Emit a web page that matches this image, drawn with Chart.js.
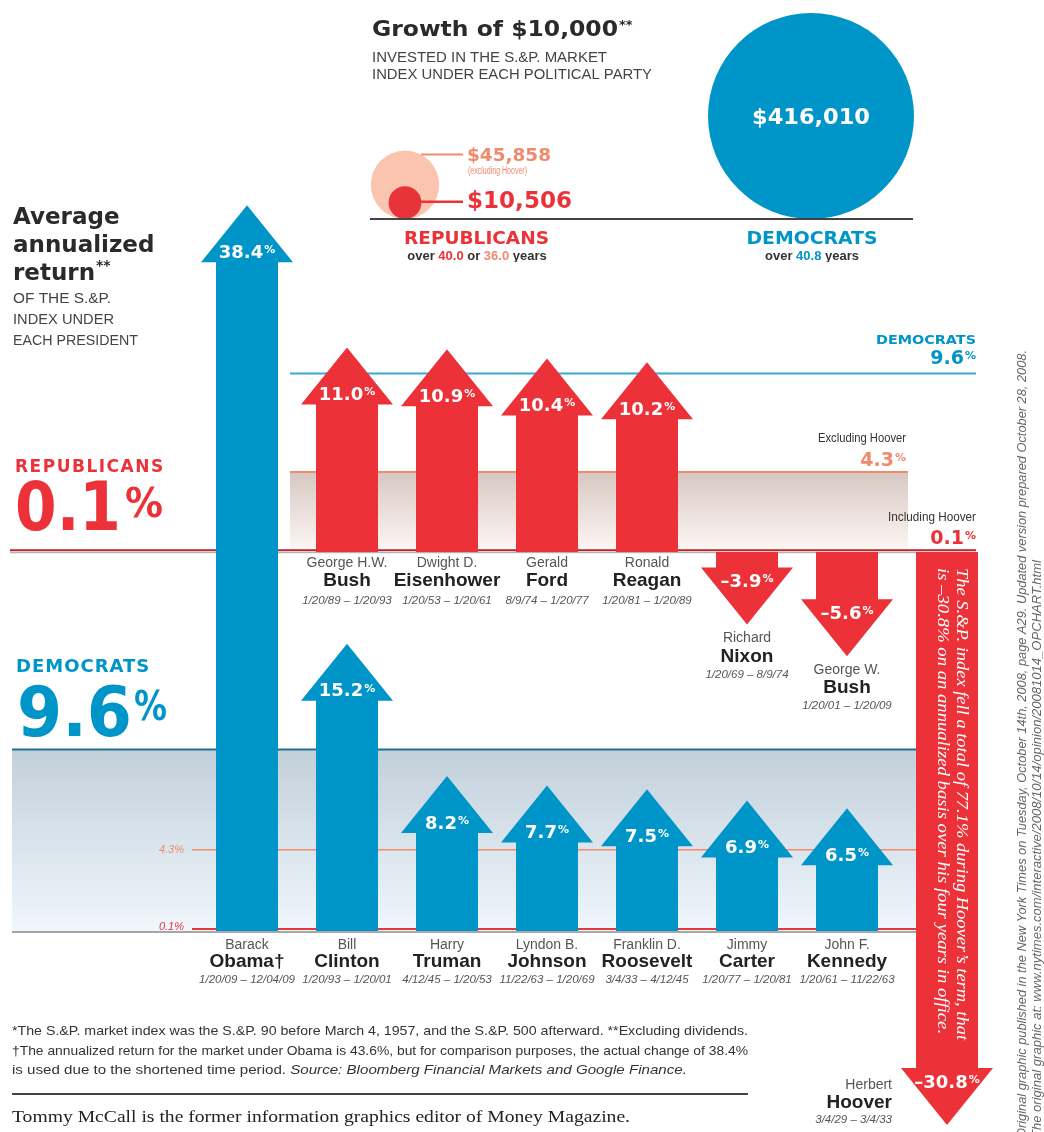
<!DOCTYPE html>
<html><head><meta charset="utf-8">
<script src="https://cdn.jsdelivr.net/npm/chart.js@4.4.1/dist/chart.umd.min.js"></script>
<style>
html,body{margin:0;padding:0;background:#fff;}
#wrap{position:relative;width:1044px;height:1132px;overflow:hidden;}
#main{position:absolute;left:0;top:0;}
#growth{position:absolute;left:202px;top:0;}
</style></head><body>
<div id="wrap"><canvas id="main" width="1044" height="1132"></canvas><canvas id="growth" width="812" height="262"></canvas></div>
<script>
// ---------------- DATA ----------------
const columns = ['Obama', 'G.H.W. Bush / Clinton', 'Eisenhower / Truman', 'Ford / Johnson', 'Reagan / Roosevelt', 'Nixon / Carter', 'G.W. Bush / Kennedy', 'Hoover'];
const repFirst = [null, 'George H.W.', 'Dwight D.', 'Gerald', 'Ronald', 'Richard', 'George W.', 'Herbert'];
const repLast = [null, 'Bush', 'Eisenhower', 'Ford', 'Reagan', 'Nixon', 'Bush', 'Hoover'];
const repTerms = [null, '1/20/89 – 1/20/93', '1/20/53 – 1/20/61', '8/9/74 – 1/20/77', '1/20/81 – 1/20/89', '1/20/69 – 8/9/74', '1/20/01 – 1/20/09', '3/4/29 – 3/4/33'];
const repReturns = [null, 11.0, 10.9, 10.4, 10.2, -3.9, -5.6, -30.8];
const demFirst = ['Barack', 'Bill', 'Harry', 'Lyndon B.', 'Franklin D.', 'Jimmy', 'John F.', null];
const demLast = ['Obama†', 'Clinton', 'Truman', 'Johnson', 'Roosevelt', 'Carter', 'Kennedy', null];
const demTerms = ['1/20/09 – 12/04/09', '1/20/93 – 1/20/01', '4/12/45 – 1/20/53', '11/22/63 – 1/20/69', '3/4/33 – 4/12/45', '1/20/77 – 1/20/81', '1/20/61 – 11/22/63', null];
const demReturns = [38.4, 15.2, 8.2, 7.7, 7.5, 6.9, 6.5, null];
const demAverage = 9.6;
const repAverageExclHoover = 4.3;
const repAverage = 0.1;
const growthParties = ['Republicans', 'Democrats'];
const growthRep = 10506;
const growthRepExclHoover = 45858;
const growthDem = 416010;
const yearsRep = '40.0', yearsRepExclHoover = '36.0', yearsDem = '40.8';

// ---------------- STYLE ----------------
const BLUE = '#0095c8', RED = '#ec3238', SALMON = '#f08a6e', PINK = '#fbc4ae', DARK = '#2a2a2a';
const DJ = '"DejaVu Sans", sans-serif', LIB = '"Liberation Sans", Arial, sans-serif',
      NAR = '"Liberation Sans Narrow", "Liberation Sans", sans-serif', SERIF = '"Liberation Serif", serif';

function txt(ctx, s, x, y, font, color, o) {
  o = o || {};
  ctx.save();
  ctx.font = font; ctx.fillStyle = color; ctx.textBaseline = o.base || 'alphabetic'; ctx.textAlign = 'left';
  if ('letterSpacing' in ctx) ctx.letterSpacing = o.ls || '0px';
  const m = ctx.measureText(s).width;
  const sx = o.w ? o.w / m : 1;
  const w = m * sx;
  const x0 = o.align === 'center' ? x - w / 2 : o.align === 'right' ? x - w : x;
  ctx.translate(x0, y); ctx.scale(sx, 1); ctx.fillText(s, 0, 0);
  ctx.restore();
  return w;
}
function rich(ctx, segs, x, y, align, scale) {
  scale = scale || 1;
  ctx.save(); ctx.textBaseline = 'alphabetic'; ctx.textAlign = 'left';
  let tot = 0; const ws = [];
  segs.forEach(s => { ctx.font = s.font; const w = ctx.measureText(s.t).width * scale; ws.push(w); tot += w; });
  let cx = align === 'center' ? x - tot / 2 : align === 'right' ? x - tot : x;
  segs.forEach((s, i) => {
    ctx.save(); ctx.font = s.font; ctx.fillStyle = s.color; ctx.translate(cx, y + (s.dy || 0)); ctx.scale(scale, 1); ctx.fillText(s.t, 0, 0); ctx.restore();
    cx += ws[i];
  });
  ctx.restore();
  return tot;
}
function pctLabel(ctx, value, x, cy, size, color, align) {
  const s = (value < 0 ? '–' : '') + Math.abs(value).toFixed(1);
  const big = 'bold ' + size + 'px ' + DJ, small = 'bold ' + Math.round(size * 0.6) + 'px ' + DJ;
  ctx.save();
  ctx.font = big; const w1 = ctx.measureText(s).width;
  ctx.font = small; const w2 = ctx.measureText('%').width;
  const tw = w1 + w2 + 1;
  const x0 = align === 'right' ? x - tw : align === 'left' ? x : x - tw / 2;
  const cap = size * 0.73, yb = cy + cap / 2;
  ctx.fillStyle = color; ctx.textBaseline = 'alphabetic'; ctx.textAlign = 'left';
  ctx.font = big; ctx.fillText(s, x0, yb);
  ctx.font = small; ctx.fillText('%', x0 + w1 + 1, yb - cap * 0.36);
  ctx.restore();
}
function hline(ctx, x1, x2, y, w, c) {
  ctx.save(); ctx.strokeStyle = c; ctx.lineWidth = w; ctx.beginPath(); ctx.moveTo(x1, y); ctx.lineTo(x2, y); ctx.stroke(); ctx.restore();
}
function drawArrow(ctx, x, tip, base, color) {
  const d = tip < base ? 1 : -1;
  const hb = tip + d * 57, sw = 31, hw = 46;
  ctx.save();
  ctx.beginPath();
  ctx.moveTo(x - sw, base); ctx.lineTo(x - sw, hb); ctx.lineTo(x - hw, hb); ctx.lineTo(x, tip);
  ctx.lineTo(x + hw, hb); ctx.lineTo(x + sw, hb); ctx.lineTo(x + sw, base); ctx.closePath();
  ctx.fillStyle = color; ctx.fill();
  ctx.restore();
  return hb;
}
function nameBlock(ctx, first, last, term, x, ys, align) {
  txt(ctx, first, x, ys[0], '14px ' + NAR, '#555', { align, base: 'middle' });
  txt(ctx, last, x, ys[1], 'bold 19px ' + LIB, '#222', { align, base: 'middle' });
  txt(ctx, term, x, ys[2], 'italic 11.5px ' + NAR, '#555', { align, base: 'middle' });
}

// ---------------- MAIN CHART PLUGIN ----------------
const arrowPlugin = {
  id: 'arrows',
  beforeDatasetsDraw(chart) {
    const ctx = chart.ctx, yT = chart.scales.yTop, yB = chart.scales.yBot;
    // top (Republican) panel
    const t96 = yT.getPixelForValue(demAverage), t43 = yT.getPixelForValue(repAverageExclHoover), t01 = yT.getPixelForValue(repAverage);
    let g = ctx.createLinearGradient(0, t43, 0, t01);
    g.addColorStop(0, '#d6c8c1'); g.addColorStop(1, '#fdf6f3');
    ctx.fillStyle = g; ctx.fillRect(290, t43, 618, t01 - t43);
    hline(ctx, 290, 908, t43, 2, SALMON);
    hline(ctx, 290, 976, t96, 2, '#3aa8d8');
    hline(ctx, 10, 976, t01, 2, '#b3262b');
    hline(ctx, 10, 976, t01 + 2.5, 1, '#a0a0a0');
    // bottom (Democratic) panel
    const b96 = yB.getPixelForValue(demAverage), b43 = yB.getPixelForValue(repAverageExclHoover), b01 = yB.getPixelForValue(repAverage);
    g = ctx.createLinearGradient(0, b96, 0, b01);
    g.addColorStop(0, '#c2d0da'); g.addColorStop(1, '#eff6fc');
    ctx.fillStyle = g; ctx.fillRect(12, b96, 905, b01 - b96 + 2);
    hline(ctx, 12, 917, b96, 2, '#236f8f');
    hline(ctx, 192, 917, b43, 1.5, SALMON);
    hline(ctx, 192, 917, b01, 2, '#e03a3e');
    hline(ctx, 12, 917, b01 + 3, 1.5, '#8a8a8a');
    txt(ctx, repAverageExclHoover.toFixed(1) + '%', 184, b43, 'italic 11px ' + NAR, SALMON, { align: 'right', base: 'middle' });
    txt(ctx, repAverage.toFixed(1) + '%', 184, b01 - 2, 'italic 11px ' + NAR, RED, { align: 'right', base: 'middle' });
  },
  afterDatasetsDraw(chart) {
    const ctx = chart.ctx;
    const H = chart.chartArea.bottom;
    chart.data.datasets.forEach((ds, di) => {
      const meta = chart.getDatasetMeta(di);
      const isDem = ds.party === 'dem';
      meta.data.forEach((el, i) => {
        const v = ds.data[i];
        if (v === null || v === undefined) return;
        const p = el.getProps(['x', 'y', 'base'], true);
        const hb = drawArrow(ctx, p.x, p.y, p.base, isDem ? BLUE : RED);
        const up = p.y < p.base;
        pctLabel(ctx, v, p.x, up ? hb - 11 : hb + 13, 18, '#fff', 'center');
        if (isDem) {
          nameBlock(ctx, demFirst[i], demLast[i], demTerms[i], p.x, [p.base + 14, p.base + 31, p.base + 49], 'center');
        } else if (up) {
          nameBlock(ctx, repFirst[i], repLast[i], repTerms[i], p.x, [p.base + 11, p.base + 29, p.base + 49], 'center');
        } else if (p.y + 60 > H) {
          nameBlock(ctx, repFirst[i], repLast[i], repTerms[i], p.x - 55, [hb + 17, hb + 35, hb + 52], 'right');
          // note inside Hoover's shaft
          ctx.save();
          ctx.translate(p.x + 14, p.base + 16); ctx.rotate(Math.PI / 2);
          txt(ctx, 'The S.&P. index fell a total of 77.1% during Hoover’s term, that', 0, 0, 'italic 16px ' + SERIF, '#fff', { base: 'middle', w: 472 });
          txt(ctx, 'is –30.8% on an annualized basis over his four years in office.', 0, 19, 'italic 16px ' + SERIF, '#fff', { base: 'middle', w: 466 });
          ctx.restore();
        } else {
          nameBlock(ctx, repFirst[i], repLast[i], repTerms[i], p.x, [p.y + 14, p.y + 32, p.y + 50], 'center');
        }
      });
    });
  },
  afterDraw(chart) {
    const ctx = chart.ctx;
    // Growth header
    const w = txt(ctx, 'Growth of $10,000', 372, 36, 'bold 22px ' + DJ, DARK, { w: 246 });
    txt(ctx, '**', 372 + w + 1, 29, 'bold 13px ' + DJ, DARK);
    txt(ctx, 'INVESTED IN THE S.&P. MARKET', 372, 62, '14px ' + NAR, '#444', { w: 235 });
    txt(ctx, 'INDEX UNDER EACH POLITICAL PARTY', 372, 79, '14px ' + NAR, '#444', { w: 280 });
    // left headline
    txt(ctx, 'Average', 13, 224, 'bold 23px ' + DJ, DARK);
    txt(ctx, 'annualized', 13, 252, 'bold 23px ' + DJ, DARK);
    const w2 = txt(ctx, 'return', 13, 280, 'bold 23px ' + DJ, DARK);
    txt(ctx, '**', 13 + w2 + 1, 270, 'bold 14px ' + DJ, DARK);
    txt(ctx, 'OF THE S.&P.', 13, 303, '14px ' + NAR, '#444', { w: 98 });
    txt(ctx, 'INDEX UNDER', 13, 324, '14px ' + NAR, '#444', { w: 101 });
    txt(ctx, 'EACH PRESIDENT', 13, 345, '14px ' + NAR, '#444', { w: 125 });
    // big party averages
    txt(ctx, 'REPUBLICANS', 15, 472, 'bold 17px ' + DJ, RED, { ls: '1.5px' });
    let wn = txt(ctx, repAverage.toFixed(1), 15, 530, 'bold 68px ' + DJ, RED, { w: 106 });
    txt(ctx, '%', 15 + wn + 4, 517, 'bold 40px ' + DJ, RED, { w: 38 });
    txt(ctx, 'DEMOCRATS', 16, 672, 'bold 18px ' + DJ, BLUE, { ls: '1px' });
    wn = txt(ctx, demAverage.toFixed(1), 17, 736, 'bold 70px ' + DJ, BLUE, { w: 115 });
    txt(ctx, '%', 17 + wn + 2, 720, 'bold 40px ' + DJ, BLUE, { w: 33 });
    // right labels of the top panel
    txt(ctx, 'DEMOCRATS', 976, 344, 'bold 13px ' + DJ, BLUE, { align: 'right', w: 100 });
    pctLabel(ctx, demAverage, 976, 357, 19, BLUE, 'right');
    txt(ctx, 'Excluding Hoover', 906, 438, '13px ' + NAR, '#333', { align: 'right', base: 'middle', w: 88 });
    pctLabel(ctx, repAverageExclHoover, 906, 459, 19, SALMON, 'right');
    txt(ctx, 'Including Hoover', 976, 517, '13px ' + NAR, '#333', { align: 'right', base: 'middle', w: 88 });
    pctLabel(ctx, repAverage, 976, 537, 19, RED, 'right');
    // vertical credit text on right edge
    ctx.save();
    ctx.translate(1023, 1138); ctx.rotate(-Math.PI / 2);
    txt(ctx, 'Original graphic published in the New York Times on Tuesday, October 14th, 2008, page A29. Updated version prepared October 28, 2008.', 0, 0, 'italic 12px ' + NAR, '#666', { base: 'middle', w: 788 });
    txt(ctx, 'The original graphic at: www.nytimes.com/interactive/2008/10/14/opinion/20081014_OPCHART.html', 0, 15, 'italic 12px ' + NAR, '#666', { base: 'middle', w: 578 });
    ctx.restore();
    // footnotes
    const fn = '13.5px ' + NAR;
    txt(ctx, '*The S.&P. market index was the S.&P. 90 before March 4, 1957, and the S.&P. 500 afterward. **Excluding dividends.', 12, 1035, fn, '#333', { w: 736 });
    txt(ctx, '†The annualized return for the market under Obama is 43.6%, but for comparison purposes, the actual change of 38.4%', 12, 1055, fn, '#333', { w: 736 });
    rich(ctx, [
      { t: 'is used due to the shortened time period. ', font: fn, color: '#333' },
      { t: 'Source: Bloomberg Financial Markets and Google Finance.', font: 'italic ' + fn, color: '#333' }
    ], 12, 1074, 'left', 1.12);
    hline(ctx, 12, 748, 1094, 2, '#444');
    txt(ctx, 'Tommy McCall is the former information graphics editor of Money Magazine.', 12, 1122, '16.5px ' + SERIF, '#222', { w: 618 });
  }
};

new Chart(document.getElementById('main'), {
  type: 'bar',
  data: {
    labels: columns,
    datasets: [
      { label: 'Republicans', party: 'rep', data: repReturns, yAxisID: 'yTop', grouped: false, barThickness: 62, backgroundColor: 'rgba(0,0,0,0)', borderWidth: 0 },
      { label: 'Democrats', party: 'dem', data: demReturns, yAxisID: 'yBot', grouped: false, barThickness: 62, backgroundColor: 'rgba(0,0,0,0)', borderWidth: 0 }
    ]
  },
  options: {
    responsive: false, animation: false, devicePixelRatio: 1, events: [],
    layout: { autoPadding: false, padding: { left: 197, right: 47, top: 0, bottom: 0 } },
    plugins: { legend: { display: false }, tooltip: { enabled: false } },
    scales: {
      x: { type: 'category', display: false, offset: true, grid: { display: false } },
      yTop: { type: 'linear', display: false, min: -31.18, max: 29.68 },
      yBot: { type: 'linear', display: false, min: -10.635, max: 49.259 }
    }
  },
  plugins: [arrowPlugin]
});

// ---------------- GROWTH BUBBLES ----------------
const radiusOf = v => 103 * Math.sqrt(v / growthDem);
const PX = 202; // canvas page offset
const growthPlugin = {
  id: 'growthLabels',
  afterDatasetsDraw(chart) {
    const ctx = chart.ctx;
    const red = chart.getDatasetMeta(0).data[0], pink = chart.getDatasetMeta(1).data[0], blue = chart.getDatasetMeta(2).data[0];
    const rr = red.options.radius, pr = pink.options.radius, br = blue.options.radius;
    const base = chart.scales.y.getPixelForValue(0);
    hline(ctx, 370 - PX, 913 - PX, base, 2, '#444');
    // connectors
    const ly1 = pink.y - pr + 4;
    const sx1 = pink.x + Math.sqrt(Math.max(0, pr * pr - (ly1 - pink.y) ** 2));
    hline(ctx, sx1, 463 - PX, ly1, 2, SALMON);
    const ly2 = red.y - 1;
    hline(ctx, red.x + rr - 1, 463 - PX, ly2, 2.5, RED);
    txt(ctx, '$' + growthRepExclHoover.toLocaleString('en-US'), 467 - PX, ly1 + 2, 'bold 18px ' + DJ, SALMON, { base: 'middle', w: 84 });
    txt(ctx, '(excluding Hoover)', 468 - PX, ly1 + 17, '10px ' + NAR, SALMON, { base: 'middle', w: 59 });
    txt(ctx, '$' + growthRep.toLocaleString('en-US'), 467 - PX, ly2, 'bold 23px ' + DJ, RED, { base: 'middle', w: 105 });
    txt(ctx, '$' + growthDem.toLocaleString('en-US'), blue.x, blue.y + 2, 'bold 22px ' + DJ, '#fff', { align: 'center', base: 'middle', w: 118 });
    // party captions
    txt(ctx, 'REPUBLICANS', red.x - 1, base + 25, 'bold 17px ' + DJ, RED, { w: 145 });
    const f = 'bold 13px ' + LIB;
    rich(ctx, [
      { t: 'over ', font: f, color: '#333' }, { t: yearsRep, font: f, color: RED },
      { t: ' or ', font: f, color: '#333' }, { t: yearsRepExclHoover, font: f, color: SALMON },
      { t: ' years', font: f, color: '#333' }
    ], red.x + 72, base + 41, 'center');
    txt(ctx, 'DEMOCRATS', blue.x + 1, base + 25, 'bold 18px ' + DJ, BLUE, { align: 'center', w: 131 });
    rich(ctx, [
      { t: 'over ', font: f, color: '#333' }, { t: yearsDem, font: f, color: BLUE },
      { t: ' years', font: f, color: '#333' }
    ], blue.x + 1, base + 41, 'center');
  }
};

new Chart(document.getElementById('growth'), {
  type: 'bubble',
  data: {
    labels: growthParties,
    datasets: [
      { label: 'Republicans (including Hoover)', data: [{ x: growthParties[0], y: radiusOf(growthRep), r: radiusOf(growthRep) }], backgroundColor: '#e8333a', borderWidth: 0, order: 0 },
      { label: 'Republicans (excluding Hoover)', data: [{ x: growthParties[0], y: radiusOf(growthRepExclHoover), r: radiusOf(growthRepExclHoover) }], backgroundColor: PINK, borderWidth: 0, order: 1 },
      { label: 'Democrats', data: [{ x: growthParties[1], y: radiusOf(growthDem), r: radiusOf(growthDem) }], backgroundColor: BLUE, borderWidth: 0, order: 2 }
    ]
  },
  options: {
    responsive: false, animation: false, devicePixelRatio: 1, events: [],
    layout: { autoPadding: false, padding: 0 },
    clip: false,
    plugins: { legend: { display: false }, tooltip: { enabled: false } },
    scales: {
      x: { type: 'category', labels: growthParties, offset: true, display: false },
      y: { type: 'linear', min: -43, max: 219, display: false }
    }
  },
  plugins: [growthPlugin]
});
</script>
</body></html>
